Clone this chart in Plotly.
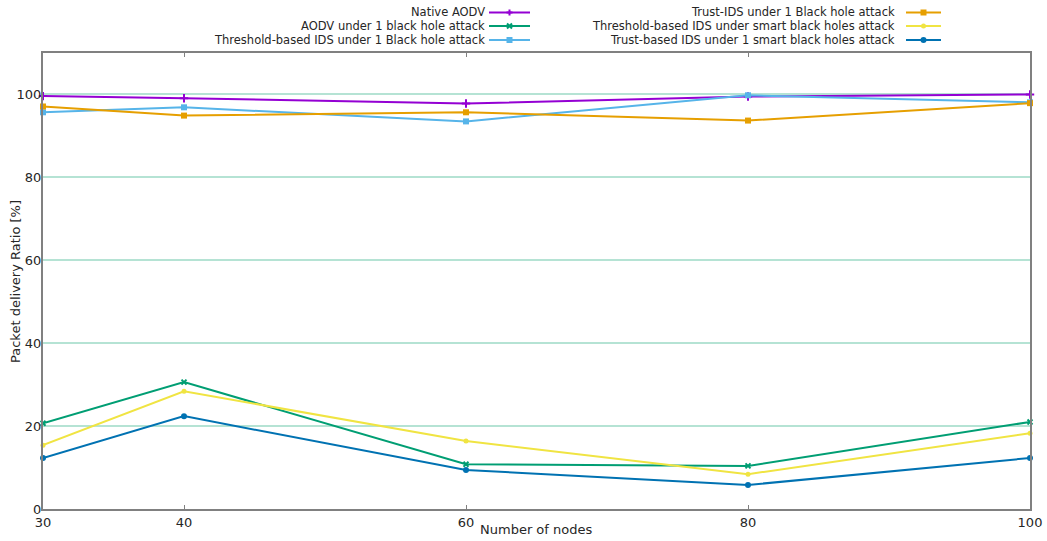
import plotly.graph_objects as go

nodes = [30, 40, 60, 80, 100]

native_aodv = [99.6, 99.1, 97.8, 99.5, 100.0]
aodv_1bh = [20.7, 30.6, 10.8, 10.4, 21.0]
thr_1bh = [95.7, 96.9, 93.5, 99.8, 98.1]
trust_1bh = [97.1, 94.9, 95.7, 93.7, 97.9]
thr_smart = [15.4, 28.4, 16.4, 8.4, 18.3]
trust_smart = [12.3, 22.4, 9.4, 5.8, 12.3]

names = [
    "Native AODV",
    "AODV under 1 black hole attack",
    "Threshold-based IDS under 1 Black hole attack",
    "Trust-IDS under 1 Black hole attack",
    "Threshold-based IDS under smart black holes attack",
    "Trust-based IDS under 1 smart black holes attack",
]
series = [native_aodv, aodv_1bh, thr_1bh, trust_1bh, thr_smart, trust_smart]
colors = ["#9400D3", "#009E73", "#56B4E9", "#E69F00", "#F0E442", "#0072B2"]
symbols = ["cross-thin", "x-thin", "square", "square", "circle", "circle"]
msizes = [6, 5, 6, 6, 5, 6]

y_ticks = [0, 20, 40, 60, 80, 100]
x_title = "Number of nodes"
y_title = "Packet delivery Ratio [%]"

FONT = "DejaVu Sans"
TXT = "#262626"

fig = go.Figure()
for name, ys, c, s, ms in zip(names, series, colors, symbols, msizes):
    fig.add_trace(go.Scatter(
        x=nodes, y=ys, mode="lines+markers", name=name,
        line=dict(color=c, width=2),
        marker=dict(symbol=s, size=ms, color=c, line=dict(color=c, width=2 if "thin" in s else 0)),
        showlegend=False, cliponaxis=False,
    ))

# Manual legend (text on the left, sample on the right, matplotlib style)
L, R, T, B = 43, 1030, 53, 509
W, H = R - L, B - T
def px(x):
    return (x - L) / W
def py(y):
    return (B - y) / H

col_text_right = [487, 897]
col_line = [(489, 530), (906, 941)]
row_y = [12.5, 26, 40]
shapes = []
annotations = []
for i, (name, c, s) in enumerate(zip(names, colors, symbols)):
    col, row = divmod(i, 3)
    yy = py(row_y[row])
    annotations.append(dict(
        x=px(col_text_right[col]), y=yy, xref="paper", yref="paper",
        text=name, showarrow=False, xanchor="right", yanchor="middle",
        font=dict(family=FONT, size=11.5, color=TXT),
    ))
    x0, x1 = col_line[col]
    shapes.append(dict(type="line", xref="paper", yref="paper",
                       x0=px(x0), x1=px(x1), y0=yy, y1=yy,
                       line=dict(color=c, width=2)))
    xm = px((x0 + x1) / 2)
    common = dict(xref="paper", yref="paper", xsizemode="pixel", ysizemode="pixel",
                  xanchor=xm, yanchor=yy)
    if s in ("square",):
        shapes.append(dict(type="rect", x0=-3, x1=3, y0=-3, y1=3,
                           fillcolor=c, line=dict(width=0), **common))
    elif s == "circle":
        r = 2.5 if i == 4 else 3
        shapes.append(dict(type="circle", x0=-r, x1=r, y0=-r, y1=r,
                           fillcolor=c, line=dict(width=0), **common))
    elif s == "cross-thin":
        shapes.append(dict(type="path", path="M-3,0 L3,0 M0,-3 L0,3",
                           line=dict(color=c, width=2), **common))
    elif s == "x-thin":
        shapes.append(dict(type="path", path="M-2.5,-2.5 L2.5,2.5 M-2.5,2.5 L2.5,-2.5",
                           line=dict(color=c, width=2), **common))

# Axis titles as annotations for exact placement
annotations.append(dict(x=px(536), y=py(529.5), xref="paper", yref="paper",
                        text=x_title, showarrow=False, xanchor="center", yanchor="middle",
                        font=dict(family=FONT, size=13, color=TXT)))
annotations.append(dict(x=px(15), y=py(282), xref="paper", yref="paper",
                        text=y_title, showarrow=False, xanchor="center", yanchor="middle",
                        textangle=-90, font=dict(family=FONT, size=13, color=TXT)))

fig.update_layout(
    width=1047, height=541,
    margin=dict(l=L, r=1047 - R, t=T, b=541 - B),
    paper_bgcolor="white", plot_bgcolor="white",
    font=dict(family=FONT, size=13, color=TXT),
    shapes=shapes, annotations=annotations,
    xaxis=dict(
        range=[30, 100], tickvals=nodes, ticktext=[str(n) for n in nodes],
        showgrid=False, zeroline=False, automargin=False,
        showline=True, linecolor="#808080", linewidth=2, mirror="ticks",
        ticks="inside", ticklen=4, tickcolor="#808080", tickwidth=1,
        tickfont=dict(size=13),
    ),
    yaxis=dict(
        range=[0, 110], tickvals=y_ticks,
        showgrid=True, gridcolor="#b5e3d4", gridwidth=1.5, zeroline=False,
        automargin=False,
        showline=True, linecolor="#808080", linewidth=2, mirror=True,
        ticks="", ticklabelstandoff=-3,
        tickfont=dict(size=13),
    ),
)

fig.write_html("out.html", config={"displayModeBar": False},
               post_script="document.body.style.margin='0';document.body.style.overflow='hidden';")
